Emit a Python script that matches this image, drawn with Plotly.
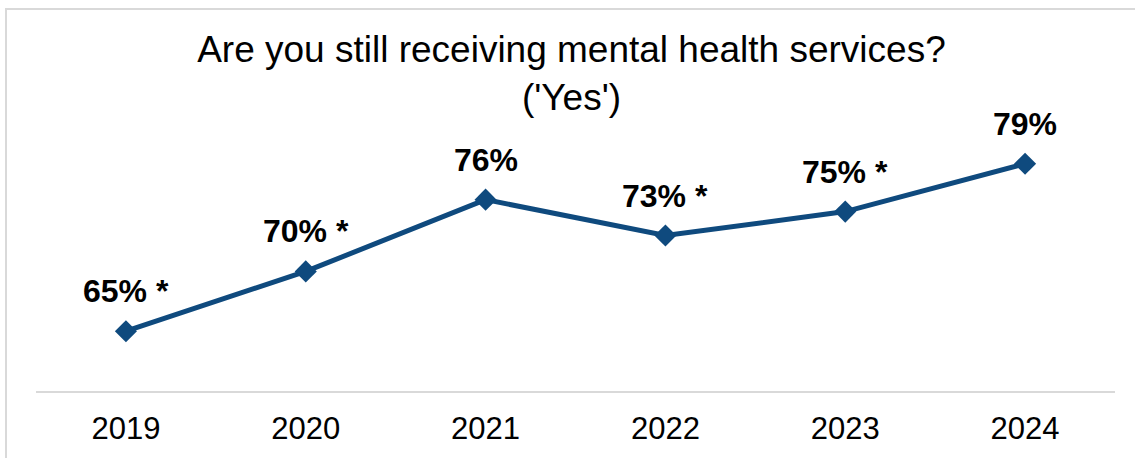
import plotly.graph_objects as go

# Survey share answering "Yes", by year
years = ["2019", "2020", "2021", "2022", "2023", "2024"]
pct_yes = [65, 70, 76, 73, 75, 79]
# Significant difference vs. the latest year
significant = [True, True, False, True, True, False]

labels = [f"{v}%" + (" *" if s else "") for v, s in zip(pct_yes, significant)]

LINE_COLOR = "#0F4A7E"
FONT = "Arial, Liberation Sans, sans-serif"

fig = go.Figure()
fig.add_trace(go.Scatter(
    x=years, y=pct_yes,
    mode="lines+markers",
    line=dict(color=LINE_COLOR, width=5),
    marker=dict(symbol="diamond", size=17, color=LINE_COLOR),
    hoverinfo="skip",
    showlegend=False,
))

# Value labels above each point (category index positions)
for i, (y, t) in enumerate(zip(pct_yes, labels)):
    fig.add_annotation(
        x=i, y=y, text=f"<b>{t}</b>", showarrow=False,
        yanchor="bottom", xanchor="center", yshift=20,
        font=dict(family=FONT, size=32, color="#000000"),
    )

# Outer frame of the chart area
fig.add_shape(
    type="rect", xref="paper", yref="paper",
    x0=-0.0278, x1=1.05, y0=-0.4, y1=1.2776,
    line=dict(color="#D9D9D9", width=2), fillcolor="rgba(0,0,0,0)",
    layer="below",
)

fig.update_layout(
    width=1135, height=458,
    margin=dict(l=36, r=20, t=92, b=67),
    paper_bgcolor="white", plot_bgcolor="white",
    title=dict(
        text="Are you still receiving mental health services?<br>('Yes')",
        x=0.5035, xref="container", xanchor="center",
        y=0.865, yref="container", yanchor="top",
        font=dict(family=FONT, size=37, color="#000000"),
    ),
    xaxis=dict(
        type="category", range=[-0.5, 5.5],
        showline=True, linecolor="#D9D9D9", linewidth=2,
        showgrid=False, zeroline=False, ticks="",
        automargin=False, ticklabelstandoff=9,
        tickfont=dict(family=FONT, size=31, color="#000000"),
    ),
    yaxis=dict(
        range=[60, 85], visible=False, showgrid=False, zeroline=False,
        automargin=False,
    ),
)

fig.write_html("out.html")
